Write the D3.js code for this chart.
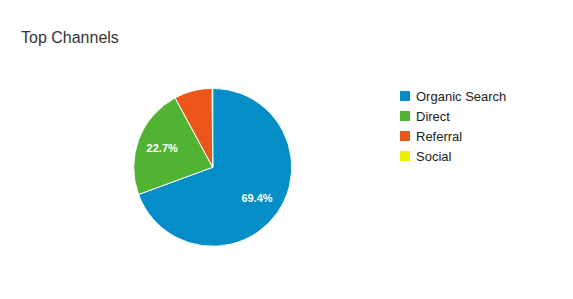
<!DOCTYPE html>
<html>
<head>
<meta charset="utf-8">
<script src="https://cdn.jsdelivr.net/npm/d3@7/dist/d3.min.js"></script>
<style>
  html, body { margin: 0; padding: 0; background: #fff; }
  svg { display: block; font-family: Arial, "Liberation Sans", sans-serif; }
</style>
</head>
<body>
<svg id="chart" width="573" height="299"></svg>
<script>
const categories = ["Organic Search", "Direct", "Referral", "Social"];
const values = [69.4, 22.7, 7.8, 0.1];
const colors = ["#058dc7", "#50b432", "#ed561b", "#edef00"];
const title = "Top Channels";

const svg = d3.select("#chart");
const W = 573, H = 299;
const cx = 212.7, cy = 167.3, R = 79;

svg.append("text")
  .attr("x", 21).attr("y", 43)
  .attr("font-size", 16)
  .attr("fill", "#333")
  .text(title);

const data = categories.map((c, i) => ({ name: c, value: values[i], color: colors[i] }));
const pie = d3.pie().value(d => d.value).sort(null);
const arcs = pie(data);
const arc = d3.arc().innerRadius(0).outerRadius(R);
const labelArc = d3.arc().innerRadius(54).outerRadius(54);

const g = svg.append("g").attr("transform", `translate(${cx},${cy})`);
g.selectAll("path.slice").data(arcs).enter().append("path")
  .attr("class", "slice")
  .attr("d", arc)
  .attr("fill", d => d.data.color)
  .attr("stroke", "#fff")
  .attr("stroke-width", 1);

g.selectAll("text.lbl").data(arcs.filter(d => d.data.value >= 10)).enter().append("text")
  .attr("class", "lbl")
  .attr("transform", d => `translate(${labelArc.centroid(d)})`)
  .attr("text-anchor", "middle")
  .attr("dy", "0.35em")
  .attr("font-size", 11)
  .attr("font-weight", "bold")
  .attr("fill", "#fff")
  .text(d => d.data.value.toFixed(1) + "%");

const y = d3.scalePoint().domain(categories).range([96, 156]);
const leg = svg.append("g");
const items = leg.selectAll("g").data(data).enter().append("g")
  .attr("transform", d => `translate(400,${y(d.name)})`);
items.append("rect")
  .attr("x", 0).attr("y", -5).attr("width", 10).attr("height", 10)
  .attr("fill", d => d.color);
items.append("text")
  .attr("x", 16).attr("y", 0).attr("dy", "0.35em")
  .attr("font-size", 13)
  .attr("fill", "#222")
  .text(d => d.name);
</script>
</body>
</html>
